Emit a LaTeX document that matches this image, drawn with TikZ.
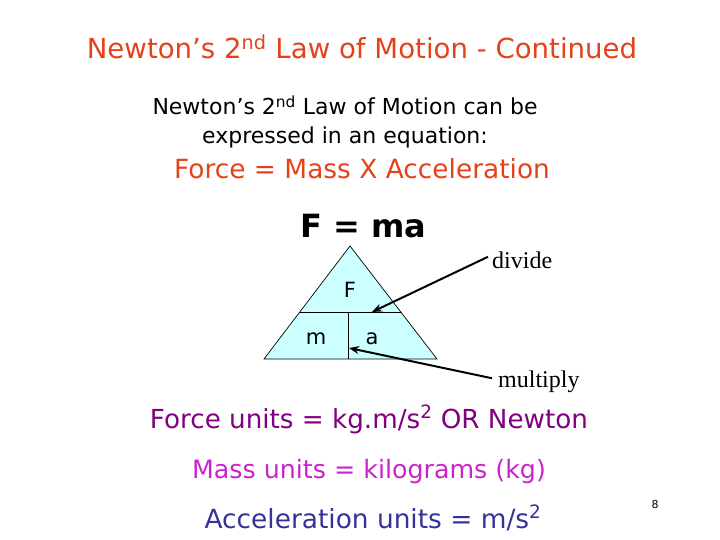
\documentclass[tikz,border=0pt]{standalone}
\usepackage{fontspec}
\setmainfont{DejaVu Sans}
\newfontfamily\serifx{Liberation Serif}
\usetikzlibrary{arrows.meta}
\definecolor{titleorange}{RGB}{228,66,26}
\definecolor{forcepurple}{RGB}{128,0,128}
\definecolor{massmagenta}{RGB}{204,34,204}
\definecolor{accblue}{RGB}{51,51,153}
\definecolor{tricyan}{RGB}{204,255,255}
\tikzset{
  txt/.style={inner sep=0pt, anchor=base},
  lbl/.style={inner sep=0pt, anchor=base west, font=\serifx\fontsize{24}{26}\selectfont},
  pointer/.style={line width=2pt, -{Stealth[length=10pt,width=8pt]}},
  tri/.style={draw=black, line width=0.7pt, fill=tricyan}
}
\begin{document}
\begin{tikzpicture}[x=1pt,y=-1pt]
\useasboundingbox (0,0) rectangle (720,540);
% title
\node[txt, text=titleorange, font=\fontsize{27.6}{30}\selectfont] (title) at (362,59) {Newton’s 2\textsuperscript{nd} Law of Motion - Continued};
\node[txt, font=\fontsize{22}{26}\selectfont] (sub1) at (345,115) {Newton’s 2\textsuperscript{nd} Law of Motion can be};
\node[txt, font=\fontsize{22}{26}\selectfont] (sub2) at (345,144) {expressed in an equation:};
\node[txt, text=titleorange, font=\fontsize{26.4}{30}\selectfont] (eq) at (362,179) {Force = Mass X Acceleration};
\node[txt, font=\bfseries\fontsize{32}{40}\selectfont] (fma) at (363,237) {F = ma};
% triangle
\coordinate (apex) at (350,246);
\coordinate (bl) at (264,359);
\coordinate (br) at (437,359);
\coordinate (ml) at (300,312);
\coordinate (mr) at (401,312);
\coordinate (mid) at (348,312);
\coordinate (midb) at (348,359);
\filldraw[tri] (apex) -- (br) -- (bl) -- cycle;
\draw[line width=0.7pt] (ml) -- (mr);
\draw[line width=0.7pt] (mid) -- (midb);
\node[txt, font=\fontsize{21}{24}\selectfont] (F) at (350,297) {F};
\node[txt, font=\fontsize{21}{24}\selectfont] (m) at (316,344) {m};
\node[txt, font=\fontsize{21}{24}\selectfont] (a) at (372,344) {a};
% pointers
\node[lbl] (divide) at (492,268) {divide};
\node[lbl] (multiply) at (498,387) {multiply};
\coordinate (divtip) at (372,312);
\coordinate (multip) at (349,348);
\draw[pointer] (divide.west) ++(-4,-3) coordinate (ds) -- (divtip);
\draw[pointer] (multiply.west) ++(-6,-3) coordinate (ms) -- (multip);
% units
\node[txt, text=forcepurple, font=\fontsize{26.2}{28}\selectfont] (fu) at (369,428) {Force units = kg.m/s\textsuperscript{2} OR Newton};
\node[txt, text=massmagenta, font=\fontsize{25.3}{28}\selectfont] (mu) at (369,478) {Mass units = kilograms (kg)};
\node[txt, text=accblue, font=\fontsize{26.4}{28}\selectfont] (au) at (373,528) {Acceleration units = m/s\textsuperscript{2}};
\node[txt, font=\fontsize{11}{13}\selectfont] (pg) at (655,508) {8};
\end{tikzpicture}
\end{document}
